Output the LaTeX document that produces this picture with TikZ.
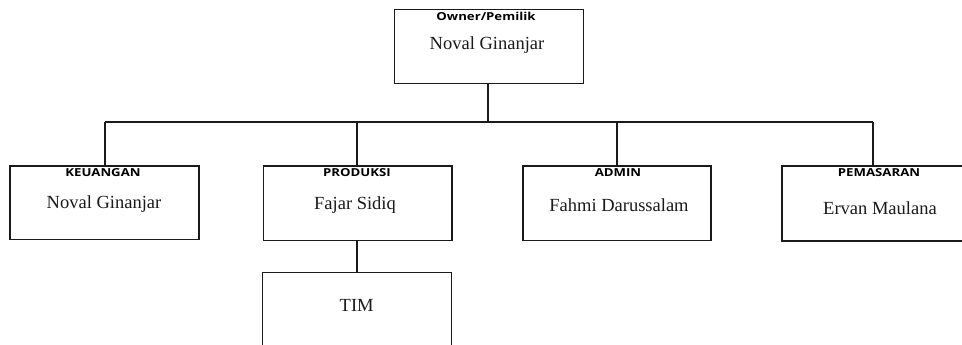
\documentclass[tikz,border=0pt]{standalone}
\usepackage{fontspec}
\usepackage{graphicx}
\setmainfont{Liberation Serif}
\newfontfamily\titlefont{Open Sans}
\usetikzlibrary{calc}
\definecolor{ink}{HTML}{1A1A1A}
\tikzset{
  x=1pt, y=-1pt,
  box/.style={draw=ink, line width=1.5pt, rectangle, inner sep=0pt, fill=none},
  conn/.style={draw=ink, line width=2pt},
  ttl/.style={inner sep=0pt, font=\titlefont\bfseries\fontsize{11}{12}\selectfont, text=black},
  nm/.style={inner sep=0pt, font=\fontsize{18.5}{20}\selectfont, text=ink},
}
\begin{document}
\begin{tikzpicture}
\useasboundingbox (0,0) rectangle (962,345);
% boxes
\node[box, minimum width=188.6pt, minimum height=74pt] (own) at (489,46.5) {};
\node[box, minimum width=189pt, minimum height=73.5pt] (keu) at (104.5,202.75) {};
\node[box, minimum width=188.7pt, minimum height=74.5pt] (pro) at (357.7,203.25) {};
\node[box, minimum width=188pt, minimum height=74.5pt] (adm) at (617,203.25) {};
\node[box, minimum width=220pt, minimum height=75pt] (pem) at (892,203.5) {};
\node[box, minimum width=189pt, minimum height=80pt] (tim) at (357,312.7) {};
% titles
\node[ttl] (ownT) at (486,16) {\scalebox{1.2}[1]{Owner/Pemilik}};
\node[ttl] (keuT) at (103,173) {\scalebox{1.2}[1]{KEUANGAN}};
\node[ttl] (proT) at (357,173) {\scalebox{1.2}[1]{PRODUKSI}};
\node[ttl] (admT) at (618,173) {\scalebox{1.2}[1]{ADMIN}};
\node[ttl] (pemT) at (879,172.5) {\scalebox{1.2}[1]{PEMASARAN}};
% names
\node[nm] (ownN) at (487,45) {Noval Ginanjar};
\node[nm] (keuN) at (104,204) {Noval Ginanjar};
\node[nm] (proN) at (355,205) {Fajar Sidiq};
\node[nm] (admN) at (619,205) {Fahmi Darussalam};
\node[nm] (pemN) at (880,208) {Ervan Maulana};
\node[nm] (timN) at (356.7,305) {TIM};
% connectors
\coordinate (bus) at (488,121.5);
\coordinate (busL) at (104.7,121.5);
\coordinate (busR) at (872.7,121.5);
\coordinate (dP) at (357,121.5);
\coordinate (dA) at (617,121.5);
\draw[conn] (own.south -| bus) -- (bus);
\draw[conn] (busL) -- (busR);
\draw[conn] (busL) -- (busL |- keu.north);
\draw[conn] (dP) -- (dP |- pro.north);
\draw[conn] (dA) -- (dA |- adm.north);
\draw[conn] (busR) -- (busR |- pem.north);
\draw[conn] (pro.south -| tim.north) -- (tim.north);
\end{tikzpicture}
\end{document}
